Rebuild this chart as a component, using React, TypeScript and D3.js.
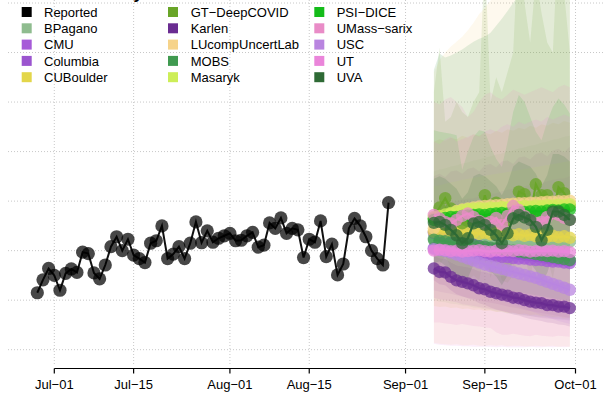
import React from 'react';
import * as d3 from 'd3';

const W = 605;
const H = 399;

// ---------- data ----------
const reportedStart = '2021-06-28';
const reported = [115,141,164,150,120,154,163,156,197,194,155,143,171,208,228,200,223,191,184,176,215,220,250,184,193,208,184,215,258,216,240,217,225,230,235,220,221,230,237,207,211,256,245,266,235,245,242,186,223,217,260,188,213,151,173,245,265,250,228,200,184,171,297];

const forecastStart = '2021-09-06';

const tickDates = ['2021-07-01','2021-07-15','2021-08-01','2021-08-15','2021-09-01','2021-09-15','2021-10-01'];
const tickLabels = ['Jul\u221201','Jul\u221215','Aug\u221201','Aug\u221215','Sep\u221201','Sep\u221215','Oct\u221201'];
const yGrid = [0,100,200,300,400,500,600,700];

const modelNames = ['BPagano','CMU','Columbia','CUBoulder','GT\u2212DeepCOVID','Karlen','LUcompUncertLab','MOBS','Masaryk','PSI\u2212DICE','UMass\u2212sarix','USC','UT','UVA'];
const modelColors = ['#8fbc8f','#a65ad8','#9b55cf','#e3d64a','#69a528','#6a2c91','#f6d38a','#409a50','#cdee58','#14bc1a','#e98cc7','#b985e0','#ea85da','#2e6a35'];

const bpaganoMed = [225,224,223,223,222,222,221,221,220,220,220,219,219,219,219,218,218,218,218,218,218,218,218,218,218];
const bpaganoLo = [100,97,96,93,92,89,88,85,84,81,80,77,76,73,72,70,69,68,67,66,65,64,63,62,61];
const bpaganoHi = [360,364,366,370,372,376,378,382,384,388,390,394,396,400,402,406,408,412,414,418,420,424,426,430,432];

const cmuMed = [205,203,202,199,198,196,195,194,192,191,190,188,187,187,185,184,184,182,181,181,179,178,178,176,175];
const cmuLo = [120,117,115,113,110,107,105,103,100,97,95,93,90,87,85,83,80,78,76,74,72,70,68,66,64];
const cmuHi = [290,293,295,296,300,303,305,306,310,313,315,316,320,323,325,326,330,333,335,336,340,343,345,346,350];

const columbiaMed = [236,232,228,225,221,218,215,212,209,206,204,202,200,198,196,194,192,191,189,188,186,185,183,182,180];
const columbiaLo = [105,102,100,98,96,92,90,88,86,84,82,80,78,76,74,72,70,68,66,64,63,62,61,60,59];
const columbiaHi = [350,355,348,360,362,355,365,368,360,372,375,368,380,382,375,388,390,384,395,398,390,402,405,398,410];

const cuboulderMed = [238,240,237,239,236,238,235,237,234,236,233,235,232,234,231,233,230,232,229,231,228,230,227,229,226];
const cuboulderLo = [88,86,87,84,85,82,83,80,81,78,79,76,77,74,75,72,73,70,71,68,69,66,67,64,65];
const cuboulderHi = [420,425,422,428,425,432,428,435,432,438,435,442,438,445,442,448,445,452,448,455,452,458,455,462,458];

const gtMed = [265,287,306,285,265,255,260,270,262,312,268,297,265,262,275,319,314,270,334,312,312,275,328,316,290];
const gtLo = [150,170,190,165,145,130,140,150,140,200,145,180,140,135,150,200,195,140,215,190,185,145,205,190,160];
const gtHi = [520,610,460,470,500,480,470,500,520,800,500,550,520,560,600,850,700,620,750,680,620,600,850,720,600];

const karlenMed = [164,157,156,147,140,137,134,130,124,122,117,114,111,109,105,104,100,97,95,94,90,90,87,87,84];
const karlenLo = [140,132,130,120,112,108,104,100,94,90,85,81,78,75,71,69,65,62,60,58,55,54,51,50,47];
const karlenHi = [190,184,183,176,170,168,166,163,158,157,153,151,149,148,145,145,142,140,139,139,136,137,135,136,134];

const lucompMed = [245,256,266,274,280,283,285,287,289,290,291,292,293,294,295,296,296,297,297,298,299,299,300,300,301];
const lucompLo = [14,12,11,10,11,9,9,10,8,8,9,8,9,7,8,8,7,7,8,7,7,8,6,7,6];
const lucompHi = [560,585,600,612,622,632,645,660,678,690,705,720,740,760,780,800,820,840,860,880,900,920,940,960,980];

const mobsMed = [222,220,219,217,216,214,213,211,209,208,206,205,203,201,200,198,196,195,193,191,189,187,185,183,181];
const mobsLo = [150,147,145,143,140,138,135,133,130,128,126,124,122,120,118,116,114,112,110,108,106,104,102,100,98];
const mobsHi = [565,598,590,594,600,606,614,622,628,632,640,654,668,684,700,716,732,748,762,772,782,792,802,812,822];

const masarykMed = [268,270,273,276,279,282,284,285,286,285,287,286,288,287,289,288,290,289,291,290,292,291,293,292,294];
const masarykLo = [215,216,218,220,222,224,225,226,227,228,229,230,231,232,233,234,235,236,236,237,237,238,238,239,239];
const masarykHi = [330,332,335,338,340,343,345,347,349,351,353,355,357,359,361,363,365,367,369,371,373,375,377,379,381];

const psiMed = [262,264,266,268,268,270,271,272,273,272,274,275,276,275,277,278,278,279,280,279,281,282,281,283,283];
const psiLo = [200,198,202,200,205,200,203,205,200,206,204,208,205,207,210,206,209,211,208,212,210,213,211,214,212];
const psiHi = [443,440,438,436,433,363,400,430,443,440,410,385,369,420,480,514,500,470,440,423,460,490,507,495,477];

const umassMed = [272,265,258,255,262,270,275,268,260,255,258,266,252,270,290,282,270,262,255,258,268,275,272,266,262];
const umassLo = [55,55,53,52,50,52,50,48,47,45,44,35,30,30,32,30,28,27,30,28,27,26,28,27,26];
const umassHi = [500,495,505,510,500,490,470,480,500,515,520,510,505,515,525,520,515,520,525,530,525,520,530,535,530];

const uscMed = [203,201,199,196,192,188,184,180,176,172,169,166,163,160,157,154,151,148,145,141,137,133,129,125,121];
const uscLo = [160,155,150,145,140,135,128,122,117,112,107,102,98,94,90,86,82,78,74,70,66,62,58,55,52];
const uscHi = [250,250,252,250,248,246,244,242,240,238,236,234,232,230,228,226,224,222,220,218,216,214,212,210,208];

const utMed = [200,202,201,199,200,198,199,200,201,199,198,200,199,200,199,201,200,198,199,200,199,200,198,199,197];
const utLo = [12,10,9,8,8,7,7,6,6,6,6,5,6,5,5,5,5,6,5,5,6,5,6,5,6];
const utHi = [420,415,425,430,420,425,430,435,430,440,445,440,450,455,450,460,455,460,465,460,470,465,470,475,470];

const uvaMed = [256,258,252,242,231,215,225,255,258,252,242,231,215,235,265,272,267,262,248,221,242,279,279,272,262];
const uvaLo = [175,178,170,160,150,135,145,172,175,168,158,148,130,150,180,185,180,175,160,135,155,190,188,180,172];
const uvaHi = [345,350,345,335,325,305,318,350,355,350,340,330,312,335,370,380,375,370,355,330,352,395,395,390,380];

const medians = [bpaganoMed,cmuMed,columbiaMed,cuboulderMed,gtMed,karlenMed,lucompMed,mobsMed,masarykMed,psiMed,umassMed,uscMed,utMed,uvaMed];
const lowers = [bpaganoLo,cmuLo,columbiaLo,cuboulderLo,gtLo,karlenLo,lucompLo,mobsLo,masarykLo,psiLo,umassLo,uscLo,utLo,uvaLo];
const uppers = [bpaganoHi,cmuHi,columbiaHi,cuboulderHi,gtHi,karlenHi,lucompHi,mobsHi,masarykHi,psiHi,umassHi,uscHi,utHi,uvaHi];

const legendNames = ['Reported', ...modelNames];
const legendColors = ['#000000', ...modelColors];

// ---------- helpers ----------
const parse = (s: string) => new Date(s + 'T00:00:00Z');
const addDays = (d: Date, n: number) => d3.utcDay.offset(d, n);

export default function App() {
  const x = d3.scaleUtc()
    .domain([parse('2021-07-01'), parse('2021-10-01')])
    .range([54.3, 575.5]);
  const y = d3.scaleLinear().domain([0, 700]).range([349.7, 3]);

  const rStart = parse(reportedStart);
  const fStart = parse(forecastStart);

  const repPts = reported.map((v, i) => ({ d: addDays(rStart, i), v }));
  const line = d3.line<{ d: Date; v: number }>().x(p => x(p.d)).y(p => y(p.v));
  const area = d3.area<{ d: Date; lo: number; hi: number }>()
    .x(p => x(p.d)).y0(p => y(p.lo)).y1(p => y(p.hi));

  const models = modelNames.map((name, k) => ({
    name,
    color: modelColors[k],
    pts: medians[k].map((v, i) => ({ d: addDays(fStart, i), v })),
    band: medians[k].map((_, i) => ({ d: addDays(fStart, i), lo: lowers[k][i], hi: uppers[k][i] })),
  }));

  const font = "'Liberation Sans', Arial, Helvetica, sans-serif";
  const axisY = 368.5;

  return (
    <svg width={W} height={H} style={{ position: 'absolute', left: 0, top: 0, background: '#fff' }} fontFamily={font}>
      <rect x={0} y={0} width={W} height={H} fill="#fff" />
      <text x={143} y={-1.5} textAnchor="end" fontSize={17} fontWeight="bold" fill="#000">Daily</text>
      {/* grid */}
      {yGrid.map(g => (
        <line key={'h' + g} x1={8} x2={W} y1={y(g)} y2={y(g)} stroke="#c8c8c8" strokeWidth={1} strokeDasharray="1,2" />
      ))}
      {tickDates.map(t => (
        <line key={'v' + t} x1={x(parse(t))} x2={x(parse(t))} y1={0} y2={365} stroke="#c8c8c8" strokeWidth={1} strokeDasharray="1,2" />
      ))}
      {/* bands */}
      {models.map(m => (
        <path key={'b' + m.name} d={area(m.band) || ''} fill={m.color} fillOpacity={0.14} stroke="none" />
      ))}
      {/* reported */}
      <path d={line(repPts) || ''} fill="none" stroke="#111" strokeWidth={2} />
      {repPts.map((p, i) => (
        <circle key={'r' + i} cx={x(p.d)} cy={y(p.v)} r={6.6} fill="#000" fillOpacity={0.72} />
      ))}
      {/* forecasts */}
      {models.map(m => (
        <g key={'m' + m.name}>
          <path d={line(m.pts) || ''} fill="none" stroke={m.color} strokeWidth={2.2} />
          {m.pts.map((p, i) => (
            <circle key={i} cx={x(p.d)} cy={y(p.v)} r={6.2} fill={m.color} fillOpacity={0.75} />
          ))}
        </g>
      ))}
      {/* x axis */}
      <line x1={x(parse(tickDates[0]))} x2={x(parse(tickDates[tickDates.length - 1]))} y1={axisY} y2={axisY} stroke="#000" strokeWidth={1.2} />
      {tickDates.map((t, i) => (
        <g key={'t' + t}>
          <line x1={x(parse(t))} x2={x(parse(t))} y1={axisY} y2={axisY + 5} stroke="#000" strokeWidth={1.2} />
          <text x={x(parse(t))} y={389} textAnchor="middle" fontSize={13} fill="#000">{tickLabels[i]}</text>
        </g>
      ))}
      {/* legend */}
      {legendNames.map((n, i) => {
        const col = Math.floor(i / 5);
        const row = i % 5;
        const cx = [26.7, 173, 319.3][col];
        const tx = [44, 190.7, 336.7][col];
        const cy = 12 + row * 16.3;
        return (
          <g key={'l' + n}>
            <rect x={cx - 5} y={cy - 5} width={10} height={10} fill={legendColors[i]} />
            <text x={tx} y={cy + 4.6} fontSize={13} fill="#000">{n}</text>
          </g>
        );
      })}
    </svg>
  );
}
